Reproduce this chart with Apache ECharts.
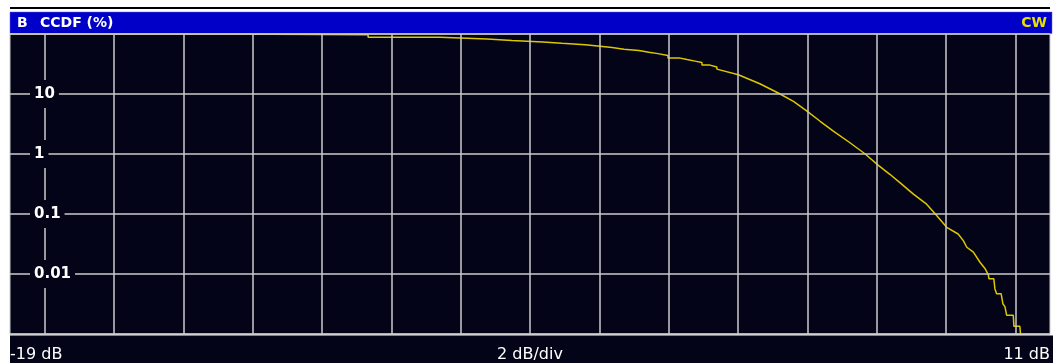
<!DOCTYPE html>
<html>
<head>
<meta charset="utf-8">
<script src="https://cdn.jsdelivr.net/npm/echarts@6/dist/echarts.min.js"></script>
<style>
html,body{margin:0;padding:0;background:#ffffff;}
#chart{width:1057px;height:363px;}
</style>
</head>
<body>
<div id="chart"></div>
<script>
// ---- data ----
const ccdfDb = [
  -19, -12.77, -12.77, -8.67, -8.67, -6.60, -6.60, -5.24, -5.24, -4.52,
  -4.52, -3.63, -3.63, -3.08, -3.08, -2.41, -2.41, -1.98, -1.98, -1.63,
  -1.63, -1.29, -1.29, -0.86, -0.86, -0.57, -0.57, -0.31, -0.31, -0.02,
  -0.02, 0.30, 0.30, 0.53, 0.53, 0.76, 0.76, 0.96, 0.96, 1.19,
  1.19, 1.39, 1.39, 2.01, 2.63, 3.16, 3.60, 4.00, 4.37, 4.75,
  5.23, 5.66, 6.05, 6.38, 6.67, 7.06, 7.44, 7.68, 8.02, 8.35,
  8.50, 8.60, 8.79, 8.98, 9.13, 9.22, 9.24, 9.38, 9.41, 9.46,
  9.59, 9.64, 9.70, 9.75, 9.94, 9.96, 10.13, 10.15
];
const ccdfPct = [
  100, 100, 97.4, 97.4, 88.2, 88.2, 82.6, 82.6, 78.0, 78.0,
  73.7, 73.7, 70.1, 70.1, 66.5, 66.5, 62.5, 62.5, 59.3, 59.3,
  55.8, 55.8, 52.9, 52.9, 49.7, 49.7, 47.1, 47.1, 43.7, 43.7,
  40.0, 40.0, 37.5, 37.5, 35.3, 35.3, 33.4, 33.4, 30.3, 30.3,
  28.1, 28.1, 26.0, 20.9, 14.8, 10.4, 7.54, 5.14, 3.51, 2.40,
  1.54, 1.01, 0.647, 0.459, 0.334, 0.214, 0.146, 0.102, 0.060, 0.0464,
  0.0360, 0.0279, 0.0231, 0.0157, 0.0122, 0.0098, 0.0083, 0.0083, 0.0057, 0.0047,
  0.0047, 0.0032, 0.00286, 0.00205, 0.00205, 0.00134, 0.00134, 0.001
];
const xMin = -19, xMax = 11;
const xGridValues = [-18, -16, -14, -12, -10, -8, -6, -4, -2, 0, 2, 4, 6, 8, 10];
const xLabelValues = [-19, -4, 11];
const xLabelTexts = ['-19 dB', '2 dB/div', '11 dB'];
const yMin = 0.001, yMax = 100;
const yTickValues = [0.01, 0.1, 1, 10];
const yTickLabels = ['0.01', '0.1', '1', '10'];
const headerLeft = 'B';
const headerTitle = 'CCDF (%)';
const headerRight = 'CW';

// ---- chart ----
const BG = '#040418';
const GRID = '#cacaca';
const chart = echarts.init(document.getElementById('chart'), null, {renderer: 'canvas'});
const seriesData = ccdfDb.map((d, i) => [d, ccdfPct[i]]);

chart.setOption({
  animation: false,
  backgroundColor: '#ffffff',
  grid: {
    left: 10, right: 7, top: 34, bottom: 28,
    show: true, backgroundColor: BG, borderColor: GRID, borderWidth: 1
  },
  graphic: [
    {type: 'rect', shape: {x: 10, y: 7, width: 1040, height: 2}, style: {fill: '#000000'}, silent: true, z: 0},
    {type: 'rect', shape: {x: 10, y: 12, width: 1042, height: 21.5}, style: {fill: '#0000c8', stroke: '#6060e0', lineWidth: 0.5}, silent: true, z: 0},
    {type: 'rect', shape: {x: 10, y: 335.5, width: 1043, height: 28}, style: {fill: BG}, silent: true, z: 0},
    {type: 'text', x: 17, y: 23.5, style: {text: headerLeft, fill: '#ffffff', font: 'bold 14px "DejaVu Sans"', textAlign: 'left', textVerticalAlign: 'middle'}, silent: true, z: 10},
    {type: 'text', x: 40, y: 23.5, style: {text: headerTitle, fill: '#ffffff', font: 'bold 14px "DejaVu Sans"', textAlign: 'left', textVerticalAlign: 'middle'}, silent: true, z: 10},
    {type: 'text', x: 1047, y: 23.5, style: {text: headerRight, fill: '#e8e000', font: 'bold 14px "DejaVu Sans"', textAlign: 'right', textVerticalAlign: 'middle'}, silent: true, z: 10}
  ],
  xAxis: {
    type: 'value', min: xMin, max: xMax,
    axisLine: {show: false},
    axisTick: {show: false, customValues: xGridValues},
    splitLine: {show: true, lineStyle: {color: GRID, width: 1.5}},
    axisLabel: {
      customValues: xLabelValues,
      formatter: (v) => { const i = xLabelValues.indexOf(v); return i >= 0 ? xLabelTexts[i] : ''; },
      color: '#ffffff', fontFamily: 'DejaVu Sans', fontSize: 16, margin: 13,
      alignMinLabel: 'left', alignMaxLabel: 'right'
    },
    z: 5
  },
  yAxis: {
    type: 'log', logBase: 10, min: yMin, max: yMax,
    axisLine: {show: false},
    axisTick: {show: false},
    splitLine: {show: true, lineStyle: {color: GRID, width: 1.5}},
    axisLabel: {
      inside: true, margin: 20, align: 'left',
      showMinLabel: false, showMaxLabel: false,
      formatter: (v) => {
        const i = yTickValues.findIndex(t => Math.abs(Math.log10(t) - Math.log10(v)) < 1e-6);
        return i >= 0 ? yTickLabels[i] : '';
      },
      color: '#ffffff', fontFamily: 'DejaVu Sans', fontSize: 15, fontWeight: 'bold',
      backgroundColor: BG, padding: [4, 4], lineHeight: 20
    },
    z: 5
  },
  series: [{
    type: 'line',
    data: seriesData,
    showSymbol: false,
    clip: true,
    lineStyle: {color: '#dcc800', width: 1.5},
    z: 3
  }]
});
</script>
</body>
</html>
